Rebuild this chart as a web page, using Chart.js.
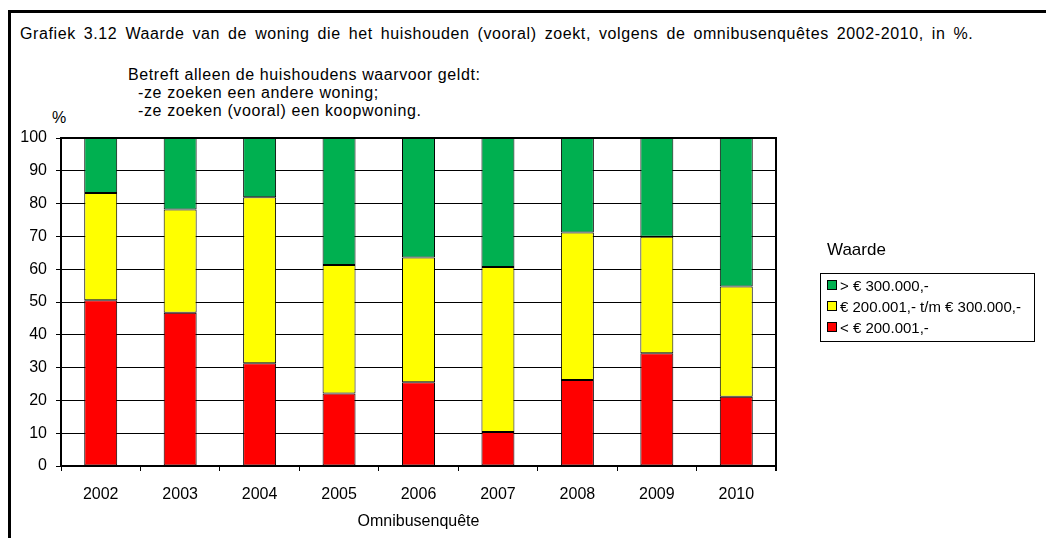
<!DOCTYPE html>
<html lang="nl">
<head>
    <meta charset="UTF-8">
    <title>Grafiek 3.12</title>
    <script src="https://cdn.jsdelivr.net/npm/chart.js"></script>
    <style>
        body { margin: 0; background: #fff; font-family: 'Liberation Sans', Arial, sans-serif; color: #000; }
        #pagina { position: relative; width: 1046px; height: 538px; overflow: hidden; }
        #kader { position: absolute; left: 8px; top: 10px; width: 1200px; height: 700px; border: 3px solid #000; }
        .tekst { position: absolute; white-space: pre; font-size: 16px; line-height: 18px; }
        #titel { left: 20px; top: 25px; word-spacing: 3px; letter-spacing: 0.6px; }
        #toelichting { left: 128px; top: 66px; letter-spacing: 0.6px; }
        #procent { left: 52px; top: 109px; }
        #grafiek { position: absolute; left: 0; top: 0; }
        #legendaTitel { left: 827px; top: 241px; font-size: 17px; }
        #legenda { position: absolute; left: 820px; top: 273px; width: 213px; height: 67px; border: 1px solid #000; }
        .item { position: absolute; left: 6px; font-size: 15px; white-space: pre; line-height: 18px; }
        .blokje { display: inline-block; width: 8px; height: 8px; border: 1px solid #000; margin-right: 3px; vertical-align: 1px; }
    </style>
</head>
<body>
<div id="pagina">
    <div id="kader"></div>
    <div class="tekst" id="titel">Grafiek 3.12 Waarde van de woning die het huishouden (vooral) zoekt, volgens de omnibusenquêtes 2002-2010, in %.</div>
    <div class="tekst" id="toelichting">Betreft alleen de huishoudens waarvoor geldt:
  -ze zoeken een andere woning;
  -ze zoeken (vooral) een koopwoning.</div>
    <div class="tekst" id="procent">%</div>
    <canvas id="grafiek" width="1046" height="538"></canvas>
    <div class="tekst" id="legendaTitel">Waarde</div>
    <div id="legenda"></div>
</div>

<script>
    // gegevens
    const jaren = ['2002', '2003', '2004', '2005', '2006', '2007', '2008', '2009', '2010'];
    const onder200 = [50.5, 46.7, 31.3, 22.1, 25.5, 10.4, 26.2, 34.4, 21.1];
    const tussen200en300 = [32.7, 31.5, 50.6, 39.2, 38.1, 50.3, 45.0, 35.5, 33.6];
    const boven300 = [16.8, 21.8, 18.1, 38.7, 36.4, 39.3, 28.8, 30.1, 45.3];
    const yTicks = [0, 10, 20, 30, 40, 50, 60, 70, 80, 90, 100];

    const reeksNamen = ['< € 200.001,-', '€ 200.001,- t/m € 300.000,-', '> € 300.000,-'];
    const kleuren = ['#FF0000', '#FFFF00', '#00B050'];

    const lettertype = { family: "'Liberation Sans', Arial, sans-serif", size: 16 };

    // rand om het plotgebied
    const plotRand = {
        id: 'plotRand',
        afterDraw(chart) {
            const ctx = chart.ctx;
            const a = chart.chartArea;
            ctx.save();
            ctx.strokeStyle = '#000';
            ctx.lineWidth = 2;
            ctx.beginPath();
            ctx.moveTo(a.left, a.top);
            ctx.lineTo(a.right, a.top);
            ctx.lineTo(a.right, a.bottom + 5);
            ctx.stroke();
            ctx.restore();
        }
    };

    const dados = {
        labels: jaren,
        datasets: [onder200, tussen200en300, boven300].map(function (waarden, i) {
            return {
                label: reeksNamen[i],
                data: waarden,
                backgroundColor: kleuren[i],
                borderColor: '#000',
                borderWidth: 1,
                borderSkipped: false,
                categoryPercentage: 1,
                barPercentage: 0.415
            };
        })
    };

    const config = {
        type: 'bar',
        data: dados,
        options: {
            responsive: false,
            animation: false,
            layout: { padding: { left: 0, top: 138, right: 270, bottom: 0 } },
            plugins: {
                legend: { display: false },
                tooltip: { enabled: false }
            },
            scales: {
                x: {
                    stacked: true,
                    afterFit: function (s) { s.height = 72; },
                    grid: { drawOnChartArea: false, drawTicks: true, tickLength: 5, color: '#000', offset: true },
                    border: { display: true, color: '#000', width: 2 },
                    ticks: { color: '#000', font: lettertype, padding: 14 },
                    title: { display: true, text: 'Omnibusenquête', color: '#000', font: lettertype, padding: { top: 0, bottom: 7 } }
                },
                y: {
                    stacked: true,
                    min: 0,
                    max: 100,
                    afterFit: function (s) { s.width = 61; },
                    afterBuildTicks: function (s) { s.ticks = yTicks.map(function (v) { return { value: v }; }); },
                    grid: { color: '#000', lineWidth: 1, tickLength: 5 },
                    border: { display: true, color: '#000', width: 2 },
                    ticks: { color: '#000', font: lettertype, padding: 9 }
                }
            }
        },
        plugins: [plotRand]
    };

    new Chart(document.getElementById('grafiek'), config);

    // legenda, bovenste reeks eerst
    const legenda = document.getElementById('legenda');
    [2, 1, 0].forEach(function (i, rij) {
        const item = document.createElement('div');
        item.className = 'item';
        item.style.top = (3 + rij * 21) + 'px';
        item.innerHTML = '<span class="blokje" style="background:' + kleuren[i] + '"></span>';
        item.appendChild(document.createTextNode(reeksNamen[i]));
        legenda.appendChild(item);
    });
</script>
</body>
</html>
